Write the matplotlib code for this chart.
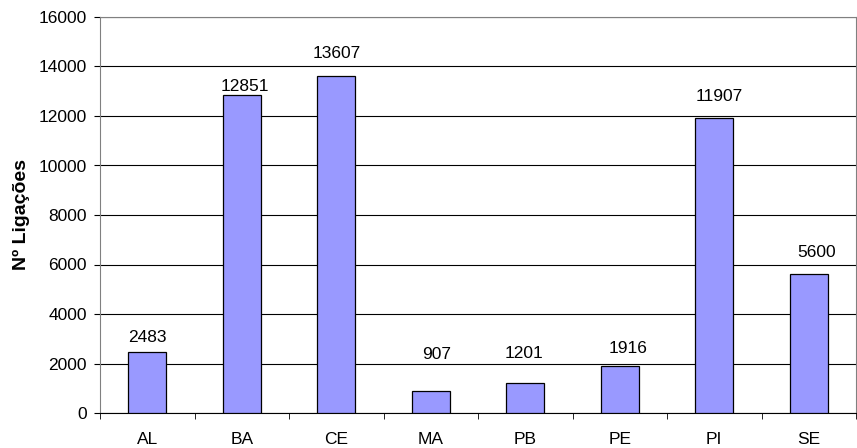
import matplotlib.pyplot as plt
import numpy as np

plt.rcParams["font.family"] = ["Liberation Sans", "DejaVu Sans"]

estados = ["AL", "BA", "CE", "MA", "PB", "PE", "PI", "SE"]
ligacoes = [2483, 12851, 13607, 907, 1201, 1916, 11907, 5600]
y_ticks = [0, 2000, 4000, 6000, 8000, 10000, 12000, 14000, 16000]

# deslocamento dos rótulos (pixels), posicionados à mão no original
rot_dx = [0, 3, 0, 6, -1, 8, 5, 8]
rot_dy = [10, 4, 18, 32, 25, 13, 17, 17]

fig = plt.figure(figsize=(8.57, 4.48), dpi=100)
ax = fig.add_axes([100 / 857, 35 / 448, 756 / 857, 396 / 448])

x = np.arange(len(estados))
ax.bar(x, ligacoes, width=0.4, color="#9999FF", edgecolor="black", linewidth=0.9, zorder=3)
for xi, v, dx, dy in zip(x, ligacoes, rot_dx, rot_dy):
    ax.annotate(str(v), (xi, v), xytext=(dx, dy), textcoords="offset pixels",
                ha="center", va="baseline", fontsize=12.5, zorder=4)

ax.set_xlim(-0.5, len(estados) - 0.5)
ax.set_ylim(0, 16000)
ax.set_yticks(y_ticks)
ax.set_yticklabels([str(t) for t in y_ticks], fontsize=12.5)
ax.yaxis.grid(True, color="black", linewidth=0.8, zorder=0)

# rótulos no centro, ticks nas divisões (estilo Excel)
ax.set_xticks(x)
ax.set_xticklabels(estados, fontsize=12.5)
ax.tick_params(axis="x", length=0, pad=13.5)
ax.set_xticks(np.arange(-0.5, len(estados)), minor=True)
ax.tick_params(axis="x", which="minor", length=4, direction="out", color="black")
ax.tick_params(axis="y", length=4, direction="out", color="black", pad=5.5)

for side in ["top", "right", "left"]:
    ax.spines[side].set_color("#808080")
ax.spines["bottom"].set_color("black")

ax.set_ylabel("Nº Ligações", fontsize=14, fontweight="bold", labelpad=6)

fig.savefig("out.png", dpi=100)
